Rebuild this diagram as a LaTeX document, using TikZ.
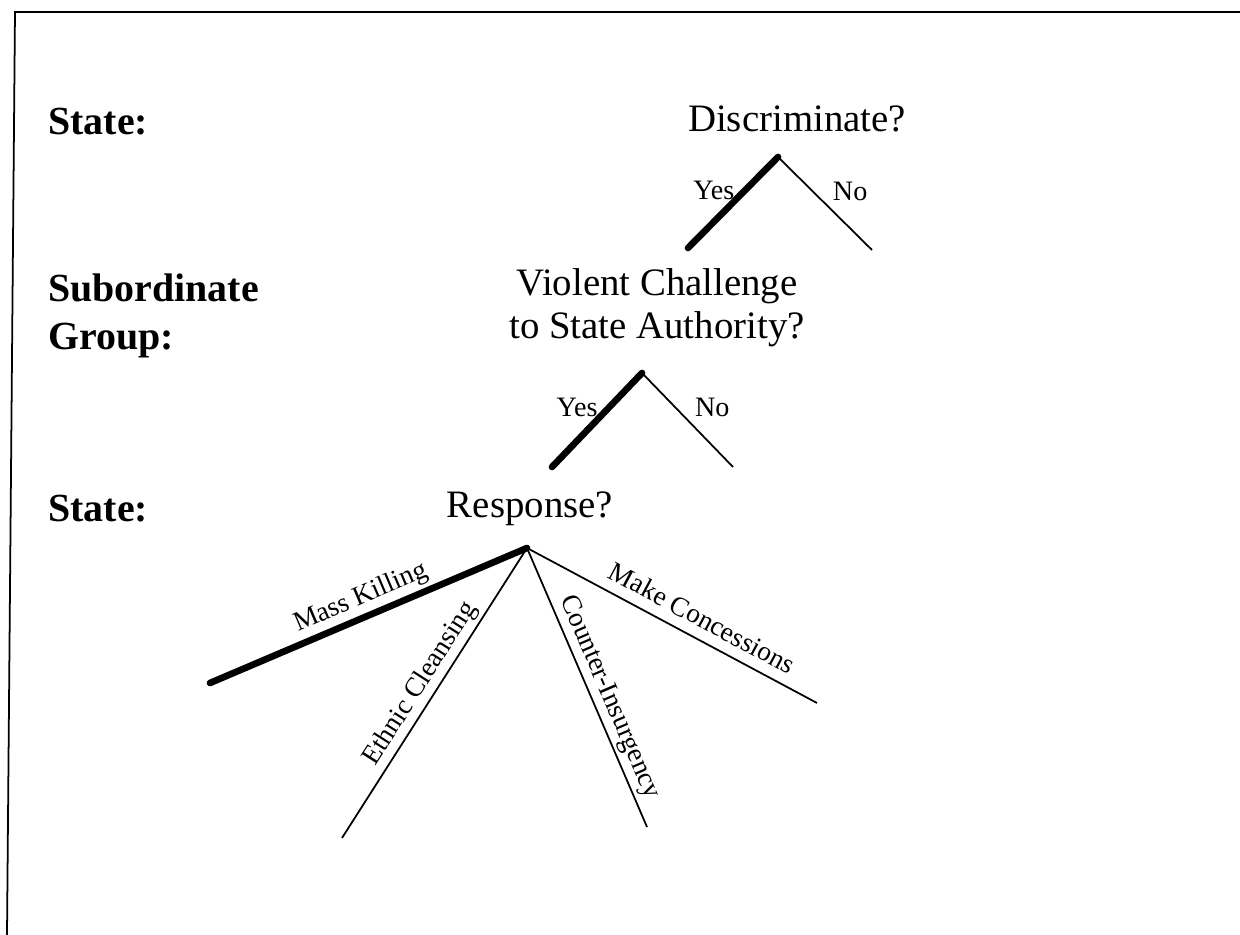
\documentclass[tikz,border=0pt]{standalone}
\usepackage{fontspec}
\setmainfont{Liberation Serif}

\begin{document}
\begin{tikzpicture}[
  x = 0.02cm, y = 0.02cm,                    % one unit = one pixel of the scan
  every node/.style = {inner sep=0pt},
  %--- node styles ---------------------------------------------------
  headst/.style   = {font=\fontsize{22.7}{28}\selectfont\bfseries,
                     anchor=base west},
  questst/.style  = {font=\fontsize{22.1}{26}\selectfont,
                     anchor=base},
  brlblst/.style  = {font=\fontsize{16}{19}\selectfont,
                     inner sep=1pt},
  slopest/.style  = {font=\fontsize{15.6}{18}\selectfont,
                     sloped, above, inner sep=2pt},
  %--- branch styles -------------------------------------------------
  thinbr/.style   = {line width=1pt},
  thickbr/.style  = {line width=3.8pt, line cap=round},
  framest/.style  = {line width=1pt},
]
\useasboundingbox (0,0) rectangle (1240,935);

% ---- Frame --------------------------------------------------------
\draw[framest] (7,0) -- (15,923) -- (1240,923);

% ---- Players ------------------------------------------------------
\node[headst] (st1) at (48,800) {State:};
\node[headst] (sub) at (48,633) {Subordinate};
\node[headst] (grp) at (48,585) {Group:};
\node[headst] (st2) at (48,413) {State:};

% ---- Moves --------------------------------------------------------
\node[questst] (disc) at (797,803) {Discriminate?};
\node[questst] (viol) at (657,639) {Violent Challenge};
\node[questst] (auth) at (657,596) {to State Authority?};
\node[questst] (resp) at (530,417) {Response?};

% ---- Branch points ------------------------------------------------
\coordinate (a1) at (778,778);
\coordinate (y1) at (688,687);
\coordinate (n1) at (872,685);
\coordinate (a2) at (642,562);
\coordinate (y2) at (552,468);
\coordinate (n2) at (733,468);
\coordinate (a3) at (527,387);
\coordinate (mk) at (210,252);
\coordinate (ec) at (342,97);
\coordinate (ci) at (647,108);
\coordinate (mc) at (817,232);

% ---- Branches -----------------------------------------------------
\draw[thickbr] (a1) -- node[brlblst, pos=.37, left=3pt] {Yes} (y1);
\draw[thinbr]  (a1) -- node[brlblst, pos=.37, right=10pt] {No} (n1);

\draw[thickbr] (a2) -- node[brlblst, pos=.37, left=3.5pt] {Yes} (y2);
\draw[thinbr]  (a2) -- node[brlblst, pos=.37, right=9.5pt] {No} (n2);

\draw[thickbr] (mk) -- node[slopest, pos=.5] {Mass Killing} (a3);
\draw[thinbr]  (ec) -- node[slopest, pos=.5] {Ethnic Cleansing} (a3);
\draw[thinbr]  (a3) -- node[slopest, pos=.56] {Counter-Insurgency} (ci);
\draw[thinbr]  (a3) -- node[slopest, pos=.57, above=4pt] {Make Concessions} (mc);

\end{tikzpicture}
\end{document}
